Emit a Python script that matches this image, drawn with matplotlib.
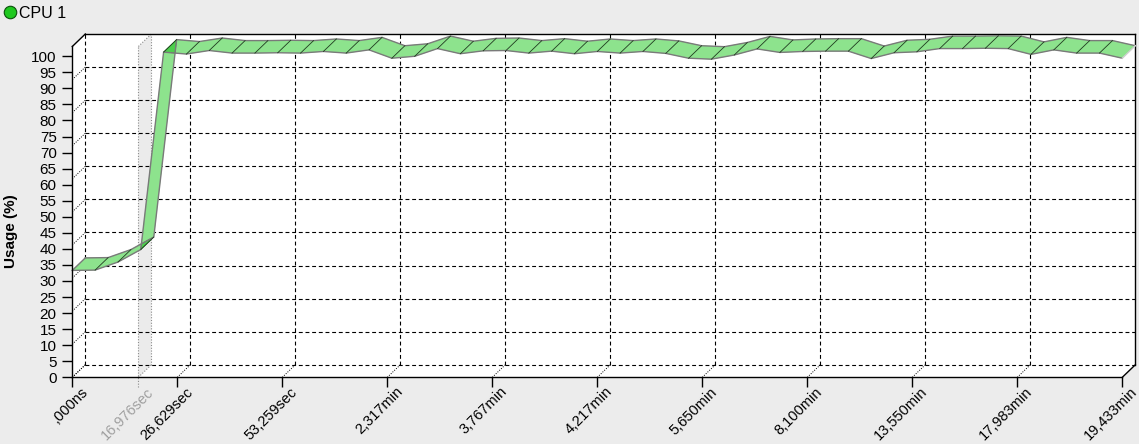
"""CPU 1 usage over the run, drawn as a TeeChart-style 3D ribbon."""
import numpy as np
import matplotlib
matplotlib.use("Agg")
import matplotlib.pyplot as plt
from matplotlib.patches import Polygon
from matplotlib.lines import Line2D
from matplotlib.transforms import ScaledTranslation

plt.rcParams["font.family"] = ["Liberation Sans", "DejaVu Sans"]

# samples, evenly spaced across the labelled axis
usage = [33.3, 33.4, 35.9, 39.8, 101.3, 100.7, 101.8, 101.0, 101.0, 101.1,
         101.0, 101.5, 101.0, 102.0, 99.4, 100.0, 102.4, 100.8, 101.7, 101.8,
         101.0, 101.6, 100.8, 101.5, 101.0, 101.5, 100.9, 99.4, 99.1, 100.4,
         102.3, 101.2, 101.5, 101.6, 101.6, 99.3, 101.1, 101.4, 102.4, 102.4,
         102.5, 102.4, 100.6, 102.0, 101.0, 101.0, 99.4]
time_labels = [",000ns", "26,629sec", "53,259sec", "2,317min", "3,767min",
               "4,217min", "5,650min", "8,100min", "13,550min", "17,983min",
               "19,433min"]
cursor_label = "16,976sec"
cursor_pos = 0.629
y_ticks = list(range(0, 101, 5))

W, H = 1139, 444
YMAX = 103.05
fig = plt.figure(figsize=(W / 100, H / 100), dpi=100, facecolor="#ececec")
ax = fig.add_axes([72.3 / W, (H - 377.3) / H, 1050 / W, 330.8 / H])
ax.set_xlim(0, 10)
ax.set_ylim(0, YMAX)
ax.patch.set_visible(False)

# depth of the 3D box in data units
px_x = 105.0
px_y = 330.8 / YMAX
DX = 13 / px_x
DY = 12.5 / px_y

# white box (front face open, walls + back)
box = Polygon([(0, 0), (0, YMAX), (DX, YMAX + DY), (10 + DX, YMAX + DY),
               (10 + DX, DY), (10, 0)], closed=True, facecolor="white",
              edgecolor="none", clip_on=False, zorder=0)
ax.add_patch(box)

# time cursor band
band = Polygon([(cursor_pos, 0), (cursor_pos, YMAX),
                (cursor_pos + DX, YMAX + DY), (cursor_pos + DX, DY)],
               closed=True, facecolor="#ebebeb", edgecolor="none",
               clip_on=False, zorder=0.5)
ax.add_patch(band)
cur = dict(color="#8c8c8c", lw=0.8, ls=(0, (1, 1.5)), clip_on=False, zorder=0.6)
ax.plot([cursor_pos, cursor_pos], [-10 / px_y, YMAX], **cur)
ax.plot([cursor_pos + DX] * 2, [DY, YMAX + DY], **cur)
ax.plot([cursor_pos, cursor_pos + DX], [YMAX, YMAX + DY], **cur)
ax.plot([cursor_pos, cursor_pos + DX], [0, DY], **cur)

# grid on the back wall
dash = dict(color="black", lw=0.8, ls=(0, (3.5, 2.5)), clip_on=False, zorder=1)
dots = dict(color="black", lw=0.7, ls=(0, (1, 1.5)), clip_on=False, zorder=1)
solid = dict(color="black", lw=1.0, clip_on=False, zorder=1)
for j in range(10):
    gy = j * YMAX / 10
    ax.plot([DX, 10 + DX], [gy + DY, gy + DY], **dash)
    ax.plot([0, DX], [gy, gy + DY], **dots)
for i in range(10):
    ax.plot([i + DX, i + DX], [DY, YMAX + DY], **dash)
    ax.plot([i, i + DX], [0, DY], **dots)
ax.plot([DX, 10 + DX], [YMAX + DY, YMAX + DY], **solid)
ax.plot([10 + DX, 10 + DX], [DY, YMAX + DY], **solid)
ax.plot([0, DX], [YMAX, YMAX + DY], **solid)
ax.plot([10, 10 + DX], [0, DY], **solid)

# ribbon
n = len(usage)
x = np.arange(n) * 10 / (n - 1)
y = np.array(usage)
fill = "#8de38d"
for k in range(n - 1):
    seg = Polygon([(x[k], y[k]), (x[k + 1], y[k + 1]),
                   (x[k + 1] + DX, y[k + 1] + DY), (x[k] + DX, y[k] + DY)],
                  closed=True, facecolor=fill, edgecolor=fill, lw=0.3,
                  clip_on=False, zorder=2)
    ax.add_patch(seg)

# darker top face where a steep segment meets the next one
scale = np.array([px_x, px_y])
for k in range(1, n - 1):
    a0 = np.array([x[k - 1] + DX, y[k - 1] + DY]) * scale
    a1 = np.array([x[k] + DX, y[k] + DY]) * scale
    b0 = np.array([x[k], y[k]]) * scale
    b1 = np.array([x[k + 1], y[k + 1]]) * scale
    d1, d2 = a1 - a0, b1 - b0
    den = d1[0] * d2[1] - d1[1] * d2[0]
    if abs(den) < 1e-9:
        continue
    r = b0 - a0
    s = (r[0] * d2[1] - r[1] * d2[0]) / den
    u = (r[0] * d1[1] - r[1] * d1[0]) / den
    if 0 < s < 1 and 0 < u < 1 and (1 - s) * np.hypot(*d1) > 4:
        p = (a0 + s * d1) / scale
        tri = Polygon([(x[k], y[k]), (x[k] + DX, y[k] + DY), tuple(p)],
                      closed=True, facecolor="#4ccf4c", edgecolor="#3a8a3a",
                      lw=0.5, clip_on=False, zorder=2.5)
        ax.add_patch(tri)

edge = dict(color="#7a7a7a", lw=1.0, clip_on=False, zorder=3)
ax.plot(x, y, **edge)
ax.plot(x + DX, y + DY, **edge)
ax.plot([x[0], x[0] + DX], [y[0], y[0] + DY], **edge)
ax.plot([x[-1], x[-1] + DX], [y[-1], y[-1] + DY], color="#d0d0d0", lw=1.0,
        clip_on=False, zorder=3)
for k in range(1, n - 1):
    ax.plot([x[k], x[k] + DX], [y[k], y[k] + DY], color="#1e3a1e", lw=0.6,
            clip_on=False, zorder=3)

# axes
for side in ("top", "right"):
    ax.spines[side].set_visible(False)
for side in ("left", "bottom"):
    ax.spines[side].set_linewidth(1.0)
    ax.spines[side].set_zorder(4)
ax.set_yticks(y_ticks)
ax.set_yticklabels([str(v) for v in y_ticks])
ax.tick_params(axis="y", length=7.2, width=1.0, pad=4, labelsize=11)
ax.set_xticks(range(len(time_labels)))
ax.set_xticklabels(time_labels, rotation=45, ha="right", va="top",
                   rotation_mode="anchor")
ax.tick_params(axis="x", length=7.2, width=1.0, pad=1, labelsize=10.5)
shift = ScaledTranslation(8 / 100, 4 / 100, fig.dpi_scale_trans)
for lab in ax.get_xticklabels():
    lab.set_transform(lab.get_transform() + shift)
ax.text(cursor_pos, -(10 + 1 * 100 / 72) / px_y, cursor_label, rotation=45,
        ha="right", va="top", rotation_mode="anchor", fontsize=10.5,
        color="#a0a0a0", transform=ax.transData + shift)

fig.text(11 / W, 1 - 231 / H, "Usage (%)", rotation=90, fontsize=11,
         fontweight="bold", ha="center", va="center")

# legend
fig.add_artist(Line2D([10 / W], [1 - 12 / H], marker="o", markersize=9,
                      markerfacecolor="#1fc81f", markeredgecolor="#0b4f0b",
                      markeredgewidth=0.8, transform=fig.transFigure))
fig.text(19 / W, 1 - 13 / H, "CPU 1", fontsize=11.5, ha="left", va="center")

fig.savefig("out.png", dpi=100, facecolor=fig.get_facecolor())
